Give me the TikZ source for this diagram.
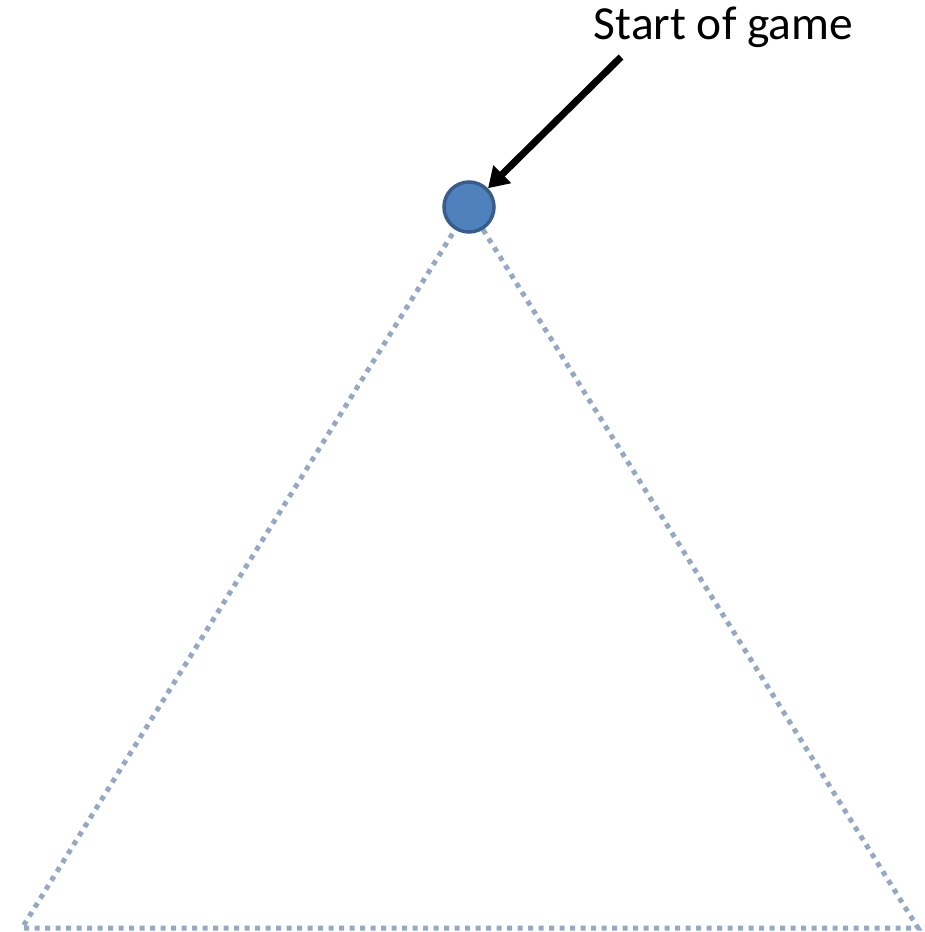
\documentclass[tikz,border=0pt]{standalone}
\usepackage{fontspec}
\setmainfont{Carlito}
\usetikzlibrary{arrows.meta}
\definecolor{nodeblue}{HTML}{4F81BD}
\definecolor{nodeedge}{HTML}{385D8A}
\definecolor{treeline}{HTML}{95A9C4}
\tikzset{
  treeedge/.style={draw=treeline, line width=5pt, dash pattern=on 5pt off 5.5pt},
  gamenode/.style={circle, fill=nodeblue, draw=nodeedge, line width=3.5pt, minimum size=50pt, inner sep=0pt},
  pointer/.style={line width=7pt, -{Triangle[length=20pt,width=24pt]}}
}
\begin{document}
\begin{tikzpicture}[x=1pt, y=-1pt]
\useasboundingbox (0,0) rectangle (925,932);
\coordinate (apex) at (469,207);
\coordinate (left) at (22,928);
\coordinate (right) at (918,928);
\draw[treeedge] (apex) -- (left) -- (right) -- (apex);
\node[gamenode] (start) at (apex) {};
\node[anchor=base, font=\fontsize{47.5}{57}\selectfont, inner sep=0pt] (label) at (723.5,39) {Start of game};
\coordinate (tail) at (621,57);
\draw[pointer] (tail) -- (start);
\end{tikzpicture}
\end{document}
